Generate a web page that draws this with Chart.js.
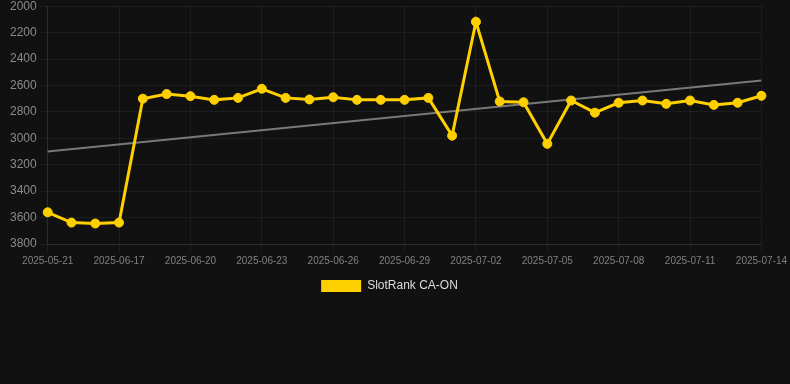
<!DOCTYPE html>
<html>
<head>
<meta charset="utf-8">
<script src="https://cdn.jsdelivr.net/npm/chart.js@4/dist/chart.umd.min.js"></script>
<style>
  html, body { margin: 0; padding: 0; background: #111111; overflow: hidden; }
  #wrap { width: 790px; height: 306px; position: relative; margin-top: -4px; }
</style>
</head>
<body>
<div id="wrap"><canvas id="c"></canvas></div>
<script>
const categories = [
  "2025-05-21","2025-06-15","2025-06-16","2025-06-17","2025-06-18","2025-06-19",
  "2025-06-20","2025-06-21","2025-06-22","2025-06-23","2025-06-24","2025-06-25",
  "2025-06-26","2025-06-27","2025-06-28","2025-06-29","2025-06-30","2025-07-01",
  "2025-07-02","2025-07-03","2025-07-04","2025-07-05","2025-07-06","2025-07-07",
  "2025-07-08","2025-07-09","2025-07-10","2025-07-11","2025-07-12","2025-07-13",
  "2025-07-14"
];
const rankValues = [
  3560, 3638, 3645, 3638, 2700, 2665, 2681, 2709, 2694, 2625,
  2694, 2706, 2689, 2709, 2709, 2709, 2694, 2980, 2118, 2721,
  2727, 3042, 2714, 2806, 2731, 2714, 2739, 2714, 2747, 2731,
  2678
];
const trendStart = 3100;
const trendEnd = 2562;
const yTicks = { min: 2000, max: 3800, step: 200 };

const trendValues = categories.map((_, i) =>
  i === 0 ? trendStart : (i === categories.length - 1 ? trendEnd : null));

const legendShift = {
  id: 'legendShift',
  afterLayout(chart) {
    const lg = chart.legend;
    if (lg) { lg.left -= 9; lg.right -= 9; }
  }
};

new Chart(document.getElementById('c'), {
  type: 'line',
  data: {
    labels: categories,
    datasets: [
      {
        label: 'SlotRank CA-ON',
        data: rankValues,
        borderColor: '#FFD000',
        backgroundColor: '#FFD000',
        borderWidth: 3,
        pointRadius: 4.5,
        pointHoverRadius: 4.5,
        pointBorderWidth: 1,
        pointBackgroundColor: '#FFD000',
        pointBorderColor: '#FFD000',
        tension: 0,
        order: 1
      },
      {
        label: 'trend',
        data: trendValues,
        spanGaps: true,
        borderColor: 'rgba(140,140,140,0.85)',
        borderWidth: 2,
        pointRadius: 0,
        tension: 0,
        order: 2
      }
    ]
  },
  plugins: [legendShift],
  options: {
    responsive: true,
    maintainAspectRatio: false,
    animation: false,
    layout: { padding: { left: 7, right: 0, top: 0, bottom: 0 } },
    plugins: {
      legend: {
        position: 'bottom',
        labels: {
          color: '#dddddd',
          font: { family: 'Liberation Sans, Arial, sans-serif', size: 12 },
          boxWidth: 40,
          boxHeight: 12,
          generateLabels: function(chart) {
            const items = Chart.defaults.plugins.legend.labels.generateLabels(chart);
            return items.filter(it => it.datasetIndex === 0).map(it => {
              it.lineWidth = 0;
              it.strokeStyle = 'rgba(0,0,0,0)';
              return it;
            });
          }
        }
      },
      tooltip: { enabled: false }
    },
    scales: {
      x: {
        grid: { color: 'rgba(255,255,255,0.05)' },
        border: { color: 'rgba(255,255,255,0.08)' },
        ticks: {
          color: '#808080',
          font: { family: 'Liberation Sans, Arial, sans-serif', size: 10 },
          maxRotation: 0,
          autoSkip: false,
          callback: function(v, i) { return i % 3 === 0 ? categories[i] : null; }
        }
      },
      y: {
        reverse: true,
        min: yTicks.min,
        max: yTicks.max,
        grid: { color: 'rgba(255,255,255,0.05)' },
        border: { color: 'rgba(255,255,255,0.08)' },
        ticks: {
          stepSize: yTicks.step,
          color: '#8a8a8a',
          font: { family: 'Liberation Sans, Arial, sans-serif', size: 12 },
          callback: function(v) { return String(v); }
        }
      }
    }
  }
});
</script>
</body>
</html>
